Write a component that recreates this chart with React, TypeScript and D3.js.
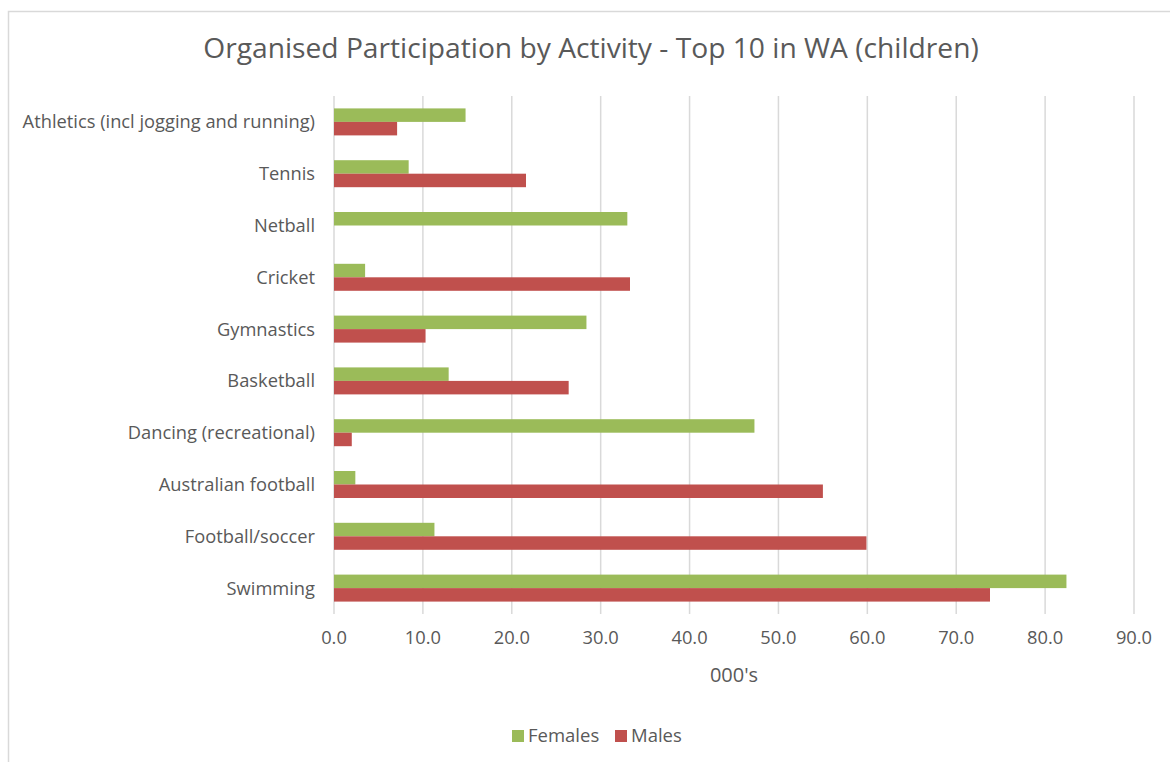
import React from "react";
import * as d3 from "d3";

const categories = [
  "Athletics (incl jogging and running)",
  "Tennis",
  "Netball",
  "Cricket",
  "Gymnastics",
  "Basketball",
  "Dancing (recreational)",
  "Australian football",
  "Football/soccer",
  "Swimming",
];
const females = [14.8, 8.4, 33.0, 3.5, 28.4, 12.9, 47.3, 2.4, 11.3, 82.4];
const males = [7.1, 21.6, 0, 33.3, 10.3, 26.4, 2.0, 55.0, 59.9, 73.8];
const seriesNames = ["Females", "Males"];
const seriesColors = ["#9BBB59", "#C0504D"];
const xTicks = [0, 10, 20, 30, 40, 50, 60, 70, 80, 90];

const W = 1170;
const H = 762;
const FONT = "'Open Sans', 'Liberation Sans', Arial, sans-serif";
const TXT = "#595959";

export default function App() {
  const left = 334, right = 1134, top = 96, bottom = 614;
  const x = d3.scaleLinear().domain([0, 90]).range([left, right]);
  const pad = 0.479;
  const y = d3.scaleBand<string>().domain(categories).range([top, bottom]).paddingInner(pad).paddingOuter(pad / 2);
  const ys = d3.scaleBand<string>().domain(seriesNames).range([0, y.bandwidth()]);
  const series = [females, males];

  return (
    <svg width={W} height={H} style={{ position: "absolute", left: 0, top: 0 }} fontFamily={FONT}>
      <rect x={0} y={0} width={W} height={H} fill="#fff" />
      <rect x={8.5} y={11.5} width={W + 20} height={H + 20} fill="#fff" stroke="#d9d9d9" strokeWidth={1.5} />
      <text x={591} y={58} textAnchor="middle" fontSize={28.2} fill={TXT}>
        Organised Participation by Activity - Top 10 in WA (children)
      </text>
      {xTicks.map((t) => (
        <line key={"g" + t} x1={x(t)} x2={x(t)} y1={top} y2={bottom} stroke="#d9d9d9" strokeWidth={1.5} />
      ))}
      {series.map((vals, si) =>
        vals.map((v, i) =>
          v > 0 ? (
            <rect
              key={si + "-" + i}
              x={x(0)}
              y={(y(categories[i]) as number) + (ys(seriesNames[si]) as number)}
              width={x(v) - x(0)}
              height={ys.bandwidth()}
              fill={seriesColors[si]}
            />
          ) : null
        )
      )}
      {categories.map((c) => (
        <text key={c} x={315} y={(y(c) as number) + y.bandwidth() / 2} dy="0.35em" textAnchor="end" fontSize={18.3} fill={TXT}>
          {c}
        </text>
      ))}
      {xTicks.map((t) => (
        <text key={"t" + t} x={x(t)} y={644} textAnchor="middle" fontSize={18.3} fill={TXT}>
          {d3.format(".1f")(t)}
        </text>
      ))}
      <text x={(left + right) / 2} y={682} textAnchor="middle" fontSize={20} fill={TXT}>
        000's
      </text>
      {seriesNames.map((s, i) => {
        const lx = [512, 615][i];
        return (
          <g key={s}>
            <rect x={lx} y={730} width={12} height={12} fill={seriesColors[i]} />
            <text x={lx + 16} y={742} fontSize={18.5} fill={TXT}>
              {s}
            </text>
          </g>
        );
      })}
    </svg>
  );
}
